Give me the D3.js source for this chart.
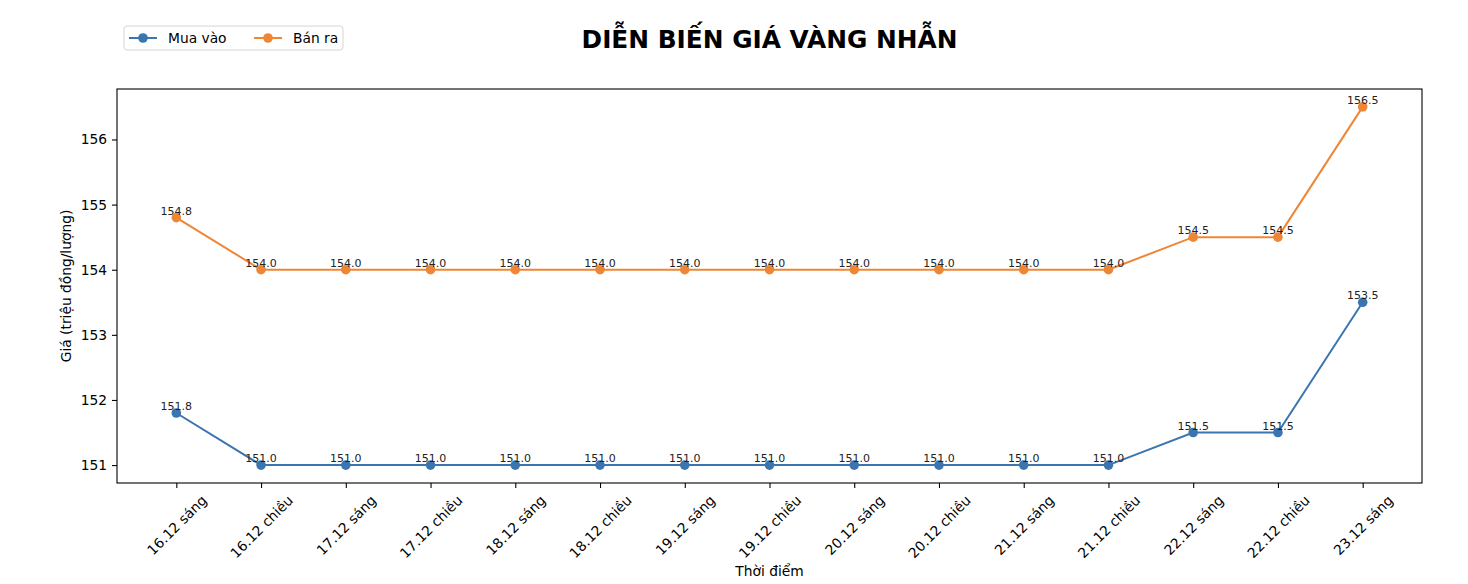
<!DOCTYPE html>
<html>
<head>
<meta charset="utf-8">
<script src="https://cdn.jsdelivr.net/npm/d3@7"></script>
<style>
  body { margin: 0; background: #fff; }
  svg { font-family: "DejaVu Sans", sans-serif; }
</style>
</head>
<body>
<svg id="chart" width="1468" height="584"></svg>
<script>
// data
const times = ["16.12 sáng", "16.12 chiều", "17.12 sáng", "17.12 chiều", "18.12 sáng",
    "18.12 chiều", "19.12 sáng", "19.12 chiều", "20.12 sáng", "20.12 chiều",
    "21.12 sáng", "21.12 chiều", "22.12 sáng", "22.12 chiều", "23.12 sáng"];
const muaVao = [151.8, 151.0, 151.0, 151.0, 151.0, 151.0, 151.0, 151.0, 151.0, 151.0, 151.0, 151.0, 151.5, 151.5, 153.5];
const banRa = [154.8, 154.0, 154.0, 154.0, 154.0, 154.0, 154.0, 154.0, 154.0, 154.0, 154.0, 154.0, 154.5, 154.5, 156.5];
const yTicks = [151, 152, 153, 154, 155, 156];

const series = [
    {name: "Mua vào", values: muaVao, color: "#3b75af"},
    {name: "Bán ra", values: banRa, color: "#ef8636"}
];

let margin = {top: 89, right: 46, bottom: 101, left: 117};
let width = 1468 - margin.left - margin.right;
let height = 584 - margin.top - margin.bottom;

let svg = d3.select("#chart");
let chart = svg.append("g")
    .attr("transform", "translate(" + margin.left + "," + margin.top + ")");

// matplotlib style 5% margins
let x = d3.scaleLinear().domain([-0.7, times.length - 1 + 0.7]).range([0, width]);
let allVals = muaVao.concat(banRa);
let lo = d3.min(allVals), hi = d3.max(allVals), pad = (hi - lo) * 0.05;
let y = d3.scaleLinear().domain([lo - pad, hi + pad]).range([height, 0]);

// x axis
let xAxis = chart.append("g")
    .attr("transform", "translate(0," + height + ")")
    .call(d3.axisBottom(x).tickValues(d3.range(times.length)).tickSize(5).tickPadding(4).tickFormat(i => times[i]));
xAxis.select(".domain").remove();
xAxis.selectAll("line").attr("stroke", "#000").attr("stroke-width", 1.1);
xAxis.selectAll("text").each(function() {
    let t = d3.select(this);
    t.attr("font-size", 13.8).attr("fill", "#000").attr("font-family", "DejaVu Sans");
    let w = this.getComputedTextLength();
    let h = 13.8;
    let s = Math.SQRT1_2;
    let cy = 10 + (w * s + h * s) / 2;
    t.attr("y", null).attr("dy", null)
        .attr("text-anchor", "middle")
        .attr("dominant-baseline", "central")
        .attr("transform", "translate(0," + cy + ") rotate(-45)");
});

// y axis
let yAxis = chart.append("g")
    .call(d3.axisLeft(y).tickValues(yTicks).tickSize(5).tickPadding(5).tickFormat(d3.format("d")));
yAxis.select(".domain").remove();
yAxis.selectAll("line").attr("stroke", "#000").attr("stroke-width", 1.1);
yAxis.selectAll("text").attr("font-size", 13.8).attr("fill", "#000").attr("font-family", "DejaVu Sans");

// frame
chart.append("rect")
    .attr("width", width).attr("height", height)
    .attr("fill", "none").attr("stroke", "#000").attr("stroke-width", 1.1);

// lines, markers and labels
let line = d3.line()
    .x((d, i) => x(i))
    .y(d => y(d));

series.forEach(s => {
    chart.append("path")
        .datum(s.values)
        .attr("fill", "none")
        .attr("stroke", s.color)
        .attr("stroke-width", 2)
        .attr("d", line);

    chart.selectAll(null)
        .data(s.values)
        .enter().append("circle")
        .attr("cx", (d, i) => x(i))
        .attr("cy", d => y(d))
        .attr("r", 4.8)
        .attr("fill", s.color);

    chart.selectAll(null)
        .data(s.values)
        .enter().append("text")
        .attr("x", (d, i) => x(i))
        .attr("y", d => y(d) - 3)
        .attr("text-anchor", "middle")
        .attr("font-size", 11)
        .attr("fill", "#222")
        .text(d => d.toFixed(1));
});

// axis titles
svg.append("text")
    .attr("x", margin.left + width / 2)
    .attr("y", 576)
    .attr("text-anchor", "middle")
    .attr("font-size", 13.8)
    .text("Thời điểm");

svg.append("text")
    .attr("transform", "translate(71," + (margin.top + height / 2) + ") rotate(-90)")
    .attr("text-anchor", "middle")
    .attr("font-size", 13.8)
    .text("Giá (triệu đồng/lượng)");

// title
svg.append("text")
    .attr("x", margin.left + width / 2)
    .attr("y", 48)
    .attr("text-anchor", "middle")
    .attr("font-size", 24.8)
    .attr("font-weight", "bold")
    .text("DIỄN BIẾN GIÁ VÀNG NHẪN");

// legend
let legend = svg.append("g").attr("transform", "translate(124,26)");
legend.append("rect")
    .attr("width", 219).attr("height", 24).attr("rx", 3)
    .attr("fill", "#fff").attr("stroke", "#d6d6d6");
series.forEach((s, i) => {
    let g = legend.append("g").attr("transform", "translate(" + (5 + i * 125) + ",12)");
    g.append("line").attr("x1", 0).attr("x2", 28).attr("stroke", s.color).attr("stroke-width", 2);
    g.append("circle").attr("cx", 14).attr("r", 4.8).attr("fill", s.color);
    g.append("text").attr("x", 39).attr("y", 5).attr("font-size", 13.8).text(s.name);
});
</script>
</body>
</html>
